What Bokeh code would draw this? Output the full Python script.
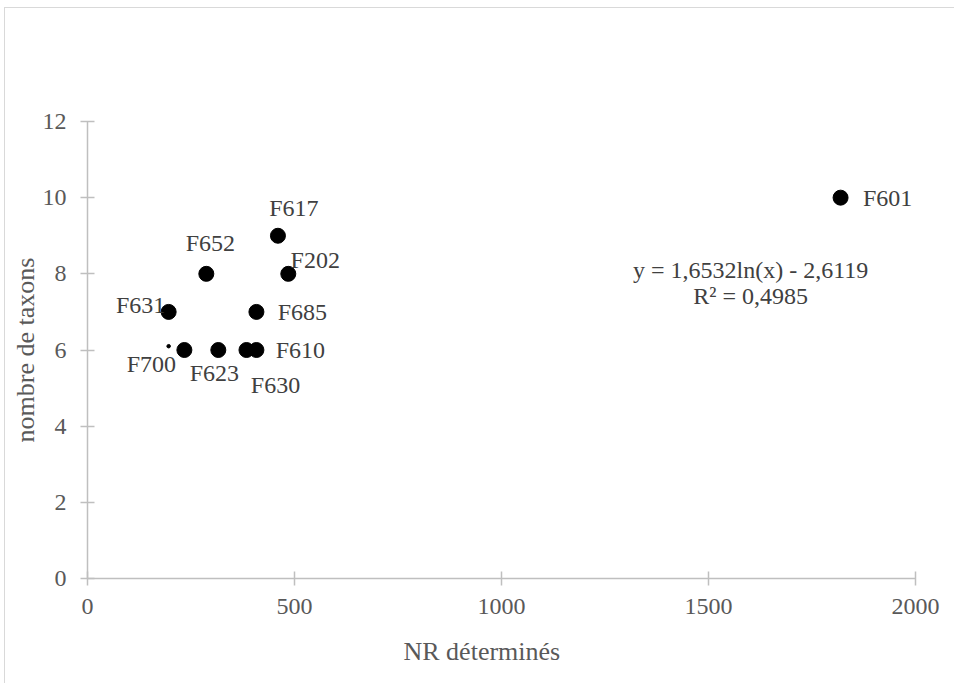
from bokeh.plotting import figure
from bokeh.models import ColumnDataSource, Range1d, FixedTicker, LabelSet, Label, Title
from bokeh.embed import file_html
from bokeh.resources import INLINE

# ---- data ----
names = ["F601", "F617", "F652", "F202", "F631", "F685", "F700", "F623", "F630", "F610"]
nr_determines = [1819, 460, 287, 485, 196, 408, 234, 316, 384, 408]
nombre_taxons = [10, 9, 8, 8, 7, 7, 6, 6, 6, 6]
stray_x = [196]
stray_y = [6.1]
x_ticks = [0, 500, 1000, 1500, 2000]
y_ticks = [0, 2, 4, 6, 8, 10, 12]
x_title = "NR déterminés"
y_title = "nombre de taxons"
equation_text = "y = 1,6532ln(x) - 2,6119"
r2_text = "R² = 0,4985"

# label offsets (screen px, right / up)
label_dx = [47, 16, 4, 27, -28, 46, -33, -4, 29, 44]
label_dy = [0, 28, 31, 14, 7, 0, -14, -23, -35, 0]

FONT = "Liberation Serif"
GRAY = "#595959"
AXIS = "#bfbfbf"

p = figure(width=950, height=676, output_backend="svg", toolbar_location=None,
           x_range=Range1d(0, 2000), y_range=Range1d(0, 12),
           min_border_left=82, min_border_right=40, min_border_top=113, min_border_bottom=106)
p.styles = {"border-top": "1px solid #d9d9d9", "border-left": "1px solid #d9d9d9",
            "margin-left": "4px", "margin-top": "7px"}
p.outline_line_color = None
p.xgrid.visible = False
p.ygrid.visible = False

for ax in (p.xaxis[0], p.yaxis[0]):
    ax.axis_line_color = AXIS
    ax.axis_line_width = 1.5
    ax.major_tick_line_color = AXIS
    ax.major_tick_line_width = 1.5
    ax.major_tick_in = 7
    ax.major_tick_out = 7
    ax.minor_tick_line_color = None
    ax.major_label_text_font = FONT
    ax.major_label_text_font_size = "24px"
    ax.major_label_text_color = GRAY
    ax.axis_label_text_font = FONT
    ax.axis_label_text_font_size = "26px"
    ax.axis_label_text_color = GRAY
    ax.axis_label_text_font_style = "normal"

p.xaxis.ticker = FixedTicker(ticks=x_ticks)
p.yaxis.ticker = FixedTicker(ticks=y_ticks)
p.yaxis.axis_label = y_title
p.yaxis.major_label_standoff = 14
p.xaxis.major_label_standoff = 13
p.yaxis.axis_label_standoff = 0

p.add_layout(Title(text=x_title, align="left", offset=316, text_font=FONT,
                   text_font_size="26px", text_font_style="normal", text_color=GRAY,
                   standoff=36), "below")

src = ColumnDataSource(dict(x=nr_determines, y=nombre_taxons, name=names,
                            dx=label_dx, dy=label_dy))
p.scatter("x", "y", source=src, size=15, color="black")
p.scatter(stray_x, stray_y, size=3.5, color="black")

labels = LabelSet(x="x", y="y", text="name", source=src, x_offset="dx", y_offset="dy",
                  text_align="center", text_baseline="middle", text_font=FONT,
                  text_font_size="24px", text_color="#404040")
p.add_layout(labels)

p.add_layout(Label(x=1602, y=8.1, text=equation_text, text_align="center", text_baseline="middle",
                   text_font=FONT, text_font_size="24px", text_color="#404040"))
p.add_layout(Label(x=1602, y=7.42, text=r2_text, text_align="center", text_baseline="middle",
                   text_font=FONT, text_font_size="24px", text_color="#404040"))

open("out.html", "w").write(file_html(p, INLINE))
